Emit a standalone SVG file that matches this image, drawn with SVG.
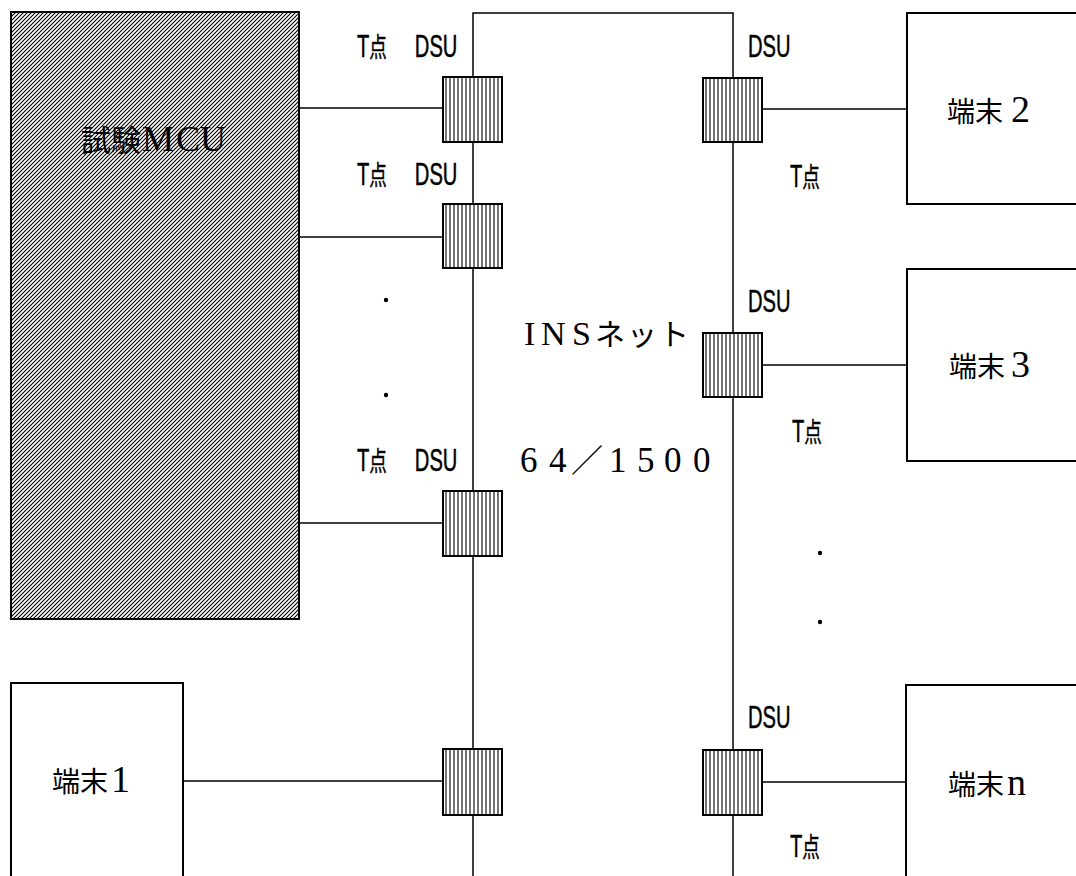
<svg xmlns="http://www.w3.org/2000/svg" width="1076" height="876" viewBox="0 0 1076 876">
<style>
.ln{stroke:#000;stroke-width:1.5;fill:none}
.bx{stroke:#000;stroke-width:2;fill:#fff}
.dsu{stroke:#000;stroke-width:2;fill:url(#vstripe)}
.mcu{stroke:#000;stroke-width:2;fill:url(#hatch)}
.lbl{font-family:"Liberation Sans","Noto Sans CJK JP",sans-serif;fill:#000;stroke:#000;stroke-width:0.5}
.big{font-family:"Liberation Serif","Noto Sans CJK JP",serif;fill:#000}
.dot{fill:#000}
</style>
<defs>
<pattern id="vstripe" patternUnits="userSpaceOnUse" width="4" height="10">
<rect width="4" height="10" fill="#fff"/>
<line x1="2" y1="0" x2="2" y2="10" stroke="#000" stroke-width="1.1"/>
</pattern>
<pattern id="hatch" patternUnits="userSpaceOnUse" width="4" height="4">
<rect width="4" height="4" fill="#fff"/>
<path d="M-1,1 L1,-1 M0,4 L4,0 M3,5 L5,3" stroke="#000" stroke-width="1.1"/>
</pattern>
</defs>

<g id="connectors">
<path class="ln" d="M473,876 V13 H733 V876"/>
<line class="ln" x1="299" y1="108" x2="443" y2="108"/>
<line class="ln" x1="299" y1="237" x2="443" y2="237"/>
<line class="ln" x1="299" y1="523" x2="443" y2="523"/>
<line class="ln" x1="183" y1="781" x2="443" y2="781"/>
<line class="ln" x1="762" y1="109" x2="907" y2="109"/>
<line class="ln" x1="762" y1="365" x2="907" y2="365"/>
<line class="ln" x1="762" y1="782" x2="907" y2="782"/>
</g>

<g id="mcu">
<rect class="mcu" x="11" y="12" width="288" height="607"/>
<text class="big" y="151" style="font-size:30px"><tspan x="81">試験</tspan><tspan x="142" style="font-size:36px">M</tspan><tspan x="176" style="font-size:36px">C</tspan><tspan x="200" style="font-size:36px">U</tspan></text>
</g>

<g id="network">
<text class="big" y="345" style="font-size:34px"><tspan x="524">I</tspan><tspan x="541">N</tspan><tspan x="572">S</tspan><tspan x="595" style="font-size:30px">ネ</tspan><tspan x="627" style="font-size:30px">ッ</tspan><tspan x="659" style="font-size:30px">ト</tspan></text>
<text class="big" y="472" style="font-size:35px"><tspan x="520">6</tspan><tspan x="549">4</tspan><tspan x="571" style="font-size:32px">／</tspan><tspan x="609">1</tspan><tspan x="637">5</tspan><tspan x="664">0</tspan><tspan x="693">0</tspan></text>
</g>

<g id="dsu-l1">
<rect class="dsu" x="443" y="77" width="59" height="65"/>
<text class="lbl" transform="translate(357,57) scale(0.65,1)" style="font-size:31px"><tspan x="0">T</tspan><tspan style="font-size:27px">点</tspan> <tspan x="89">DSU</tspan></text>
</g>
<g id="dsu-l2">
<rect class="dsu" x="443" y="204" width="59" height="64"/>
<text class="lbl" transform="translate(357,185) scale(0.65,1)" style="font-size:31px"><tspan x="0">T</tspan><tspan style="font-size:27px">点</tspan> <tspan x="89">DSU</tspan></text>
</g>
<g id="dsu-l3">
<rect class="dsu" x="443" y="491" width="59" height="65"/>
<text class="lbl" transform="translate(357,471) scale(0.65,1)" style="font-size:31px"><tspan x="0">T</tspan><tspan style="font-size:27px">点</tspan> <tspan x="89">DSU</tspan></text>
</g>
<g id="dsu-l4">
<rect class="dsu" x="443" y="749" width="59" height="66"/>
</g>

<g id="dsu-r1">
<rect class="dsu" x="703" y="78" width="59" height="64"/>
<text class="lbl" transform="translate(748,57) scale(0.65,1)" style="font-size:31px">DSU</text>
<text class="lbl" transform="translate(790,187) scale(0.65,1)" style="font-size:31px">T<tspan style="font-size:27px">点</tspan></text>
</g>
<g id="dsu-r2">
<rect class="dsu" x="703" y="333" width="59" height="64"/>
<text class="lbl" transform="translate(748,312) scale(0.65,1)" style="font-size:31px">DSU</text>
<text class="lbl" transform="translate(792,442) scale(0.65,1)" style="font-size:31px">T<tspan style="font-size:27px">点</tspan></text>
</g>
<g id="dsu-r3">
<rect class="dsu" x="703" y="750" width="59" height="65"/>
<text class="lbl" transform="translate(748,728) scale(0.65,1)" style="font-size:31px">DSU</text>
<text class="lbl" transform="translate(790,857) scale(0.65,1)" style="font-size:31px">T<tspan style="font-size:27px">点</tspan></text>
</g>

<g id="dots">
<circle class="dot" cx="386" cy="300" r="2.2"/>
<circle class="dot" cx="386" cy="395" r="2.2"/>
<circle class="dot" cx="820" cy="553" r="2.2"/>
<circle class="dot" cx="820" cy="622" r="2.2"/>
</g>

<g id="term2">
<path class="bx" d="M1078,13 H907 V204 H1078"/>
<text class="big" y="122"><tspan x="947" style="font-size:28px">端末</tspan><tspan x="1011" style="font-size:38px">2</tspan></text>
</g>
<g id="term3">
<path class="bx" d="M1078,269 H907 V461 H1078"/>
<text class="big" y="377"><tspan x="949" style="font-size:28px">端末</tspan><tspan x="1011" style="font-size:38px">3</tspan></text>
</g>
<g id="termn">
<path class="bx" d="M1078,685 H906 V878"/>
<text class="big" y="795"><tspan x="948" style="font-size:28px">端末</tspan><tspan x="1007" style="font-size:38px">n</tspan></text>
</g>
<g id="term1">
<path class="bx" d="M11,878 V683 H183 V878"/>
<text class="big" y="792"><tspan x="52" style="font-size:28px">端末</tspan><tspan x="111" style="font-size:38px">1</tspan></text>
</g>
</svg>
